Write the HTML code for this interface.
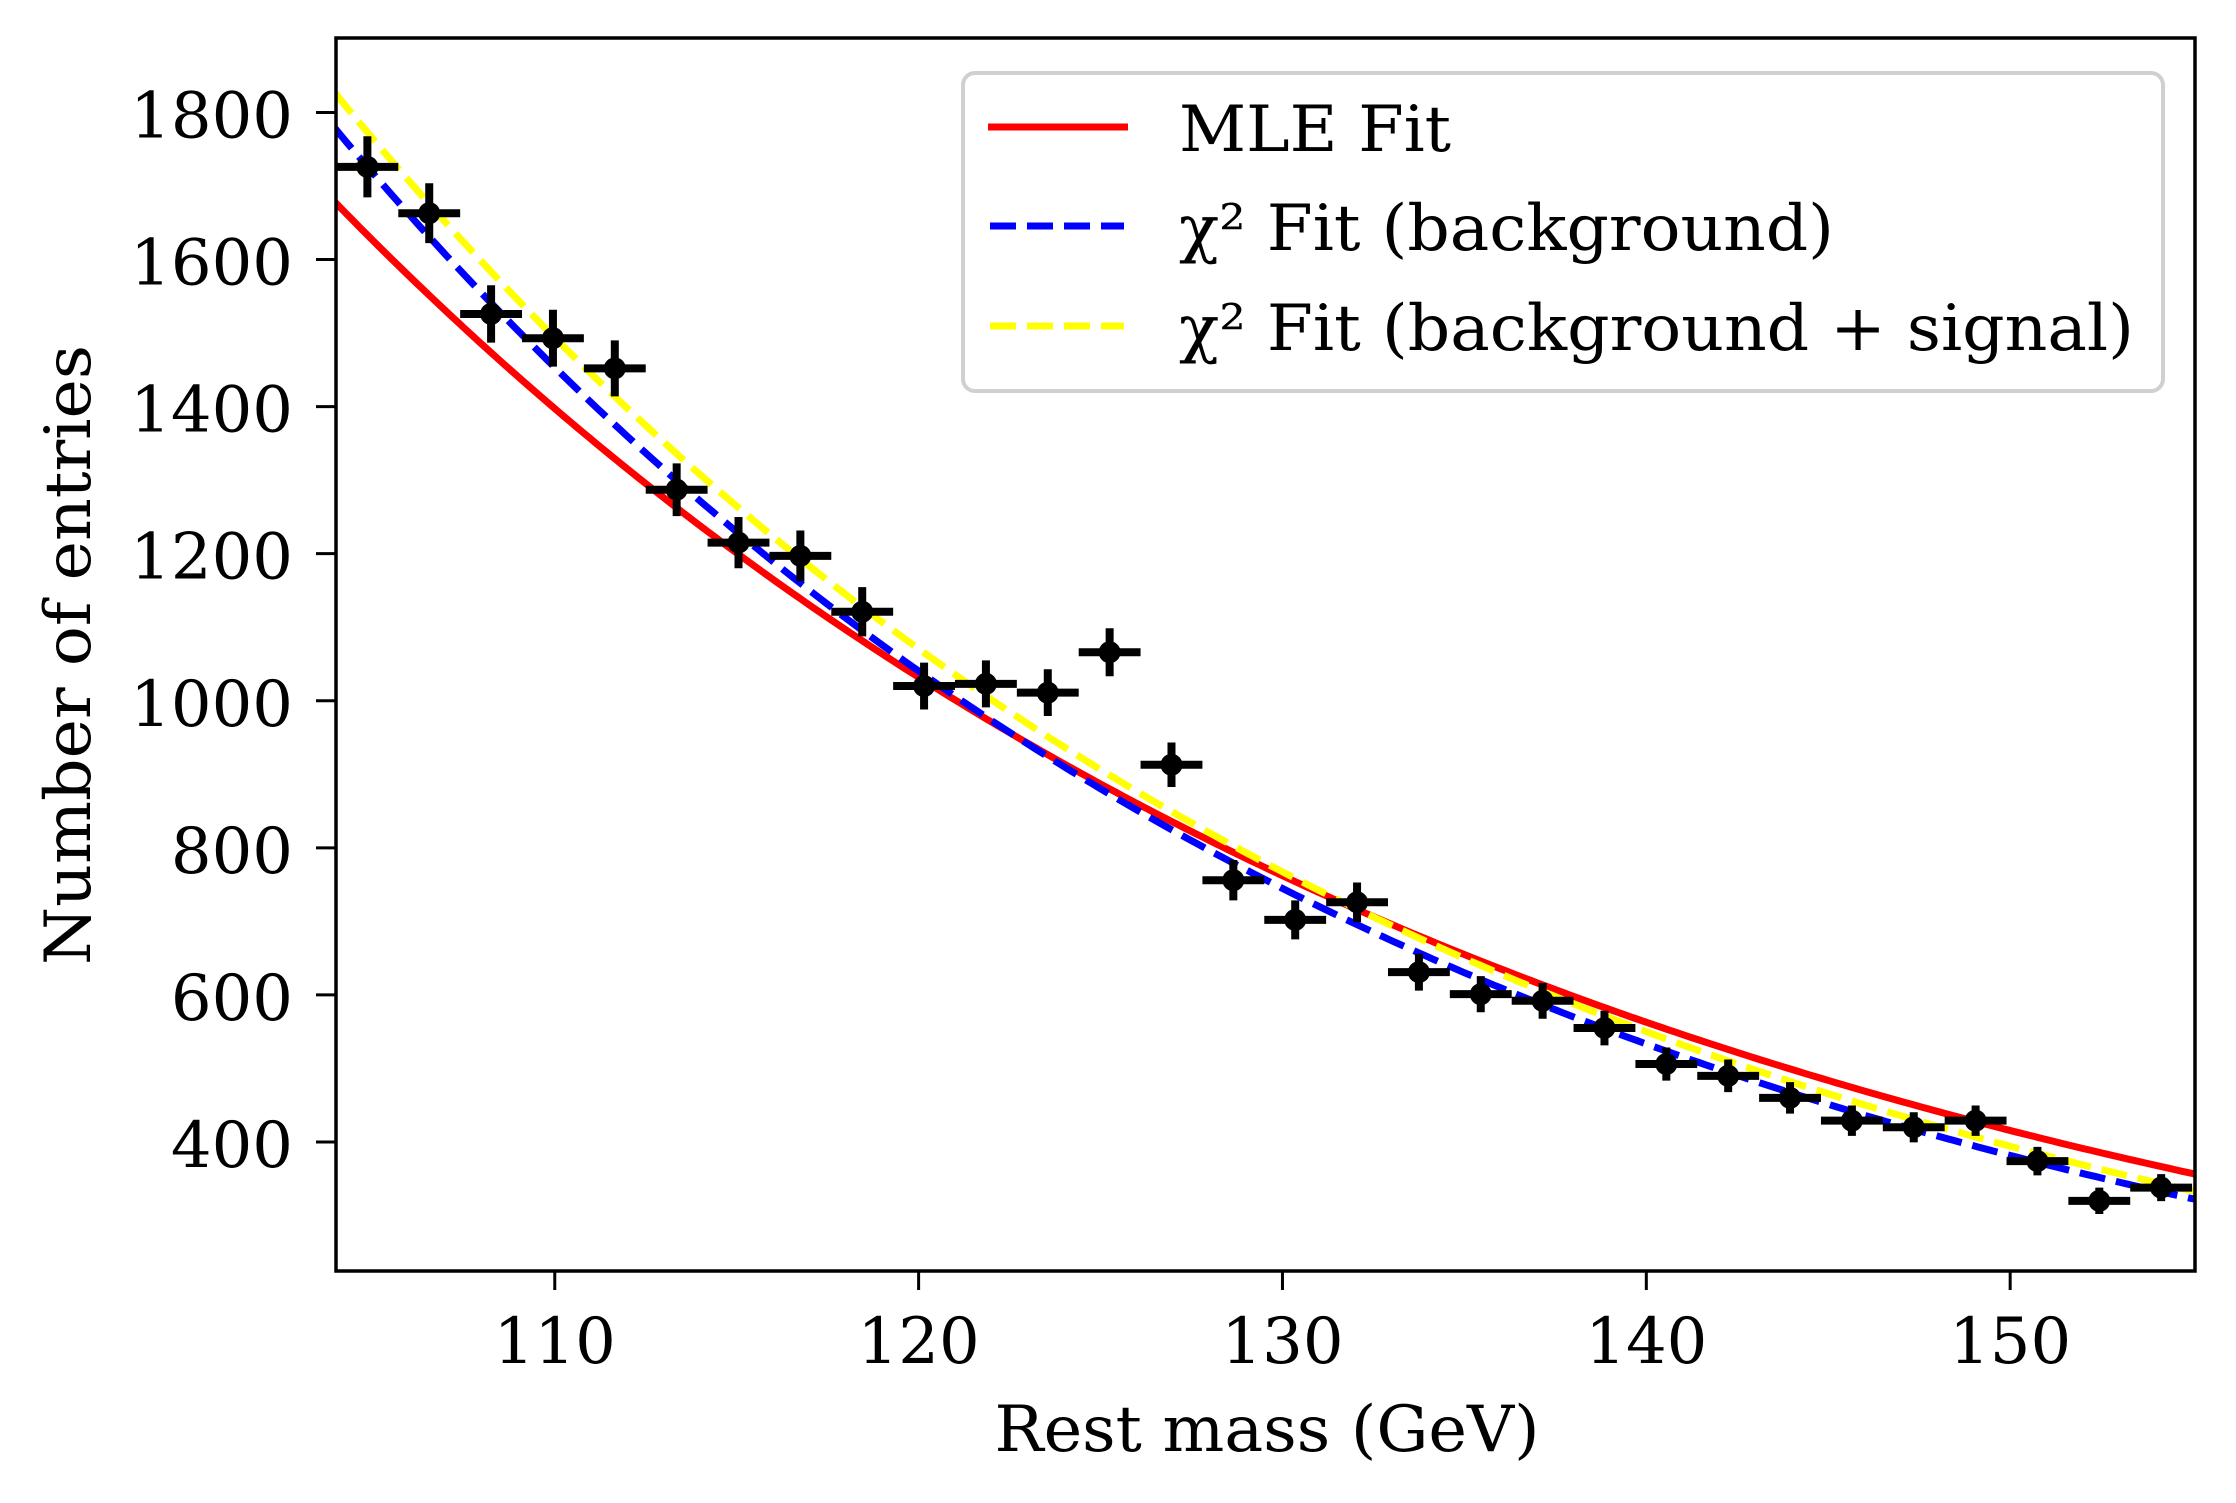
<!DOCTYPE html>
<html><head><meta charset="utf-8"><style>
html,body{margin:0;padding:0;background:#fff;}
svg{display:block;}
text{font-family:"DejaVu Serif","Liberation Serif",serif;fill:#000;}
</style></head><body>
<svg id="chart" width="2236" height="1503" viewBox="0 0 2236 1503" xmlns="http://www.w3.org/2000/svg">
<defs><clipPath id="plotclip"><rect x="336" y="38" width="1860" height="1233"/></clipPath></defs>
<rect x="0" y="0" width="2236" height="1503" fill="#fff"/>
<g id="curves" clip-path="url(#plotclip)"></g>
<g id="points" clip-path="url(#plotclip)"></g>
<rect x="336" y="38" width="1859" height="1233" fill="none" stroke="#000" stroke-width="3.5"/>
<g id="xticks"></g>
<g id="yticks"></g>
<text x="1267" y="1451" text-anchor="middle" font-size="64" textLength="545" lengthAdjust="spacingAndGlyphs">Rest mass (GeV)</text>
<text transform="translate(90,655) rotate(-90)" x="0" y="0" text-anchor="middle" font-size="64" textLength="620" lengthAdjust="spacingAndGlyphs">Number of entries</text>
<g>
<rect x="963" y="73" width="1200" height="318" rx="12" fill="#fff" fill-opacity="0.8" stroke="#d0d0d0" stroke-width="4"/>
<line x1="988" y1="127" x2="1128" y2="127" stroke="#ff0000" stroke-width="7"/>
<text x="1179" y="151" font-size="64" textLength="272" lengthAdjust="spacingAndGlyphs">MLE Fit</text>
<line x1="990" y1="226" x2="1124" y2="226" stroke="#0000ff" stroke-width="7" stroke-dasharray="26,11"/>
<text x="1179" y="250" font-size="64" textLength="655" lengthAdjust="spacingAndGlyphs">χ² Fit (background)</text>
<line x1="990" y1="326" x2="1124" y2="326" stroke="#ffff00" stroke-width="7" stroke-dasharray="26,11"/>
<text x="1179" y="350" font-size="64" textLength="955" lengthAdjust="spacingAndGlyphs">χ² Fit (background + signal)</text>
</g>
</svg>
<script>
const binCenters = [104.85,106.55,108.25,109.95,111.65,113.35,115.05,116.75,118.45,120.15,121.85,123.55,125.25,126.95,128.65,130.35,132.05,133.75,135.45,137.15,138.85,140.55,142.25,143.95,145.65,147.35,149.05,150.75,152.45,154.15];
const counts = [1726,1663,1526,1493,1452,1287,1215,1197,1121,1020,1023,1011,1066,913,756,702,726,631,601,592,555,506,490,460,429,420,429,374,320,338];
const binHalfWidth = 0.85;
const xTicks = [110,120,130,140,150];
const yTicks = [400,600,800,1000,1200,1400,1600,1800];
// fit parameters: value at x=104 and exponential slope
const fitNames = ['mle','background','background-signal'];
const fitAmp = [1676,1776,1824];
const fitSlope = [0.03031,0.03342,0.0333];
const fitColors = ['#ff0000','#0000ff','#ffff00'];
const fitDash = ['none','26,11','26,11'];

const X0=335, X1=2195, XMIN=103.96, XMAX=155.08;
const YPX0=1142, YSCALE=0.7354;
function xs(v){return X0+(v-XMIN)/(XMAX-XMIN)*(X1-X0);}
function ys(v){return YPX0-(v-400)*YSCALE;}
const NS='http://www.w3.org/2000/svg';
function mk(tag,attrs,parent){const e=document.createElementNS(NS,tag);for(const k in attrs)e.setAttribute(k,attrs[k]);parent.appendChild(e);return e;}

const cg=document.getElementById('curves');
for(let i=0;i<fitNames.length;i++){
  let d='';
  for(let s=0;s<=300;s++){const x=XMIN+(XMAX-XMIN)*s/300;const y=fitAmp[i]*Math.exp(-fitSlope[i]*(x-104));d+=(s?'L':'M')+xs(x).toFixed(1)+','+ys(y).toFixed(1);}
  const p=mk('path',{d:d,fill:'none',stroke:fitColors[i],'stroke-width':7},cg);
  if(fitDash[i]!=='none')p.setAttribute('stroke-dasharray',fitDash[i]);
  
  
}
const pg=document.getElementById('points');
for(let i=0;i<counts.length;i++){
  const g=mk('g',{},pg);
  
  
  const cx=xs(binCenters[i]), cy=ys(counts[i]), err=Math.sqrt(counts[i]);
  mk('line',{x1:xs(binCenters[i]-binHalfWidth),x2:xs(binCenters[i]+binHalfWidth),y1:cy,y2:cy,stroke:'#000','stroke-width':8},g);
  mk('line',{x1:cx,x2:cx,y1:ys(counts[i]-err),y2:ys(counts[i]+err),stroke:'#000','stroke-width':8},g);
  mk('circle',{cx:cx,cy:cy,r:11,fill:'#000'},g);
}
const xg=document.getElementById('xticks');
for(const t of xTicks){
  const l=mk('line',{x1:xs(t),x2:xs(t),y1:1271,y2:1290,stroke:'#000','stroke-width':3},xg);
  
  
  const tx=mk('text',{x:xs(t),y:1363,'text-anchor':'middle','font-size':64},xg);
  tx.textContent=t;
  
  
}
const yg=document.getElementById('yticks');
for(const t of yTicks){
  const l=mk('line',{x1:316,x2:336,y1:ys(t),y2:ys(t),stroke:'#000','stroke-width':3},yg);
  
  
  const tx=mk('text',{x:293,y:ys(t)+25,'text-anchor':'end','font-size':64},yg);
  tx.textContent=t;
  
  
}
</script>
</body></html>
